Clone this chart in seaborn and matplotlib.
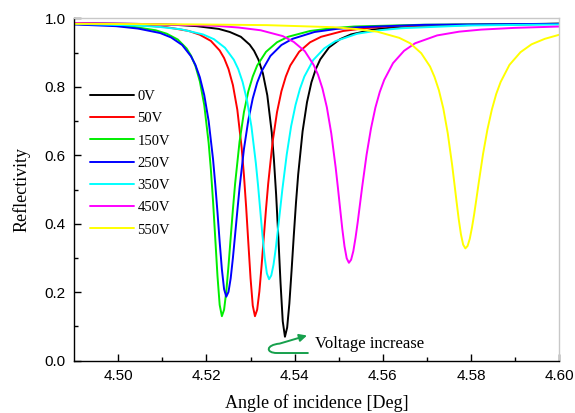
import numpy as np
import pandas as pd
import matplotlib
matplotlib.use("Agg")
import matplotlib.pyplot as plt
import seaborn as sns
from matplotlib.path import Path
from matplotlib.patches import FancyArrowPatch

# ---------------- data ----------------
labels = ["0V", "50V", "150V", "250V", "350V", "450V", "550V"]
colors = ["#000000", "#ff0000", "#00ee00", "#0000ff", "#00ffff", "#ff00ff", "#ffff00"]

x_0V = [4.49, 4.5078, 4.5128, 4.5178, 4.5228, 4.5253, 4.5278, 4.5298, 4.5308, 4.5318,
        4.5328, 4.5338, 4.5348, 4.5353, 4.5358, 4.5363, 4.5368, 4.5373, 4.5378, 4.5383,
        4.5388, 4.5393, 4.5398, 4.5403, 4.5408, 4.5418, 4.5428, 4.5438, 4.5448, 4.5458,
        4.5478, 4.5503, 4.5528, 4.5578, 4.5628, 4.5678, 4.60]
r_0V = [0.986, 0.983, 0.981, 0.977, 0.969, 0.960, 0.946, 0.923, 0.905, 0.879,
        0.839, 0.775, 0.667, 0.587, 0.485, 0.361, 0.227, 0.115, 0.070, 0.097,
        0.167, 0.263, 0.365, 0.461, 0.544, 0.670, 0.755, 0.813, 0.852, 0.880,
        0.915, 0.939, 0.953, 0.967, 0.974, 0.978, 0.984]

x_50V = [4.49, 4.501, 4.506, 4.511, 4.516, 4.5185, 4.521, 4.523, 4.524, 4.525,
         4.526, 4.527, 4.528, 4.5285, 4.529, 4.5295, 4.530, 4.5305, 4.531, 4.5315,
         4.532, 4.5325, 4.533, 4.5335, 4.534, 4.535, 4.536, 4.537, 4.538, 4.539,
         4.541, 4.5435, 4.546, 4.551, 4.556, 4.561, 4.576, 4.60]
r_50V = [0.985, 0.982, 0.979, 0.974, 0.963, 0.952, 0.934, 0.906, 0.884, 0.852,
         0.805, 0.733, 0.620, 0.542, 0.449, 0.344, 0.241, 0.161, 0.130, 0.149,
         0.202, 0.277, 0.360, 0.442, 0.517, 0.639, 0.726, 0.787, 0.830, 0.862,
         0.902, 0.930, 0.946, 0.963, 0.971, 0.976, 0.981, 0.984]

x_150V = [4.49, 4.4935, 4.4985, 4.5035, 4.5085, 4.511, 4.5135, 4.5155, 4.5165, 4.5175,
          4.5185, 4.5195, 4.5205, 4.521, 4.5215, 4.522, 4.5225, 4.523, 4.5235,
          4.524, 4.5245, 4.525, 4.5255, 4.526, 4.5265, 4.5275, 4.5285, 4.5295, 4.5305,
          4.5315, 4.5335, 4.536, 4.5385, 4.5435, 4.5485, 4.5535, 4.5685, 4.60]
r_150V = [0.983, 0.982, 0.980, 0.975, 0.965, 0.955, 0.938, 0.912, 0.891, 0.861,
          0.816, 0.747, 0.636, 0.559, 0.465, 0.357, 0.248, 0.163, 0.130,
          0.149, 0.202, 0.277, 0.360, 0.442, 0.517, 0.639, 0.726, 0.787, 0.830,
          0.862, 0.902, 0.930, 0.946, 0.963, 0.971, 0.976, 0.981, 0.984]

x_250V = [4.49, 4.4995, 4.5045, 4.5095, 4.512, 4.5145, 4.5165, 4.5175, 4.5185, 4.5195,
          4.5205, 4.5215, 4.522, 4.5225, 4.523, 4.5235, 4.524, 4.5245,
          4.525, 4.5255, 4.526, 4.5265, 4.527, 4.5275, 4.5285, 4.5295, 4.5305, 4.5315,
          4.5325, 4.5345, 4.537, 4.5395, 4.5445, 4.5495, 4.5545, 4.5695, 4.60]
r_250V = [0.982, 0.977, 0.970, 0.957, 0.944, 0.922, 0.889, 0.864, 0.828, 0.776,
          0.700, 0.588, 0.515, 0.434, 0.347, 0.267, 0.209, 0.187,
          0.201, 0.241, 0.300, 0.368, 0.437, 0.504, 0.618, 0.703, 0.766, 0.812,
          0.845, 0.890, 0.922, 0.940, 0.960, 0.969, 0.974, 0.981, 0.984]

x_350V = [4.49, 4.5042, 4.5092, 4.5142, 4.5192, 4.5217, 4.5242, 4.5262, 4.5272, 4.5282,
          4.5292, 4.5302, 4.5312, 4.5317, 4.5322, 4.5327, 4.5332, 4.5337, 4.5342,
          4.5347, 4.5352, 4.5357, 4.5362, 4.5367, 4.5372, 4.5382, 4.5392, 4.5402, 4.5412,
          4.5422, 4.5442, 4.5467, 4.5492, 4.5542, 4.5592, 4.5642, 4.5792, 4.60]
r_350V = [0.984, 0.979, 0.975, 0.968, 0.953, 0.939, 0.914, 0.879, 0.852, 0.814,
          0.760, 0.684, 0.577, 0.512, 0.439, 0.366, 0.301, 0.255, 0.238,
          0.249, 0.280, 0.326, 0.382, 0.440, 0.499, 0.602, 0.685, 0.747, 0.794,
          0.830, 0.878, 0.912, 0.933, 0.955, 0.965, 0.971, 0.979, 0.982]

x_450V = [4.49, 4.5073, 4.5223, 4.5273, 4.5323, 4.5373, 4.5398, 4.5423, 4.5443, 4.5453,
          4.5463, 4.5473, 4.5483, 4.5493, 4.5498, 4.5503, 4.5508, 4.5513, 4.5518, 4.5523,
          4.5528, 4.5533, 4.5538, 4.5543, 4.5548, 4.5553, 4.5563, 4.5573, 4.5583, 4.5593,
          4.5603, 4.5623, 4.5648, 4.5673, 4.5723, 4.5773, 4.5823, 4.5898, 4.60]
r_450V = [0.986, 0.983, 0.978, 0.973, 0.965, 0.948, 0.931, 0.904, 0.864, 0.835,
          0.795, 0.740, 0.664, 0.564, 0.506, 0.445, 0.385, 0.334, 0.299, 0.286,
          0.295, 0.320, 0.359, 0.405, 0.456, 0.507, 0.601, 0.678, 0.739, 0.785,
          0.820, 0.869, 0.905, 0.927, 0.950, 0.961, 0.967, 0.972, 0.976]

x_550V = [4.49, 4.5187, 4.5337, 4.5487, 4.5537, 4.5587, 4.5637, 4.5662, 4.5687, 4.5707,
          4.5717, 4.5727, 4.5737, 4.5747, 4.5757, 4.5762, 4.5767, 4.5772, 4.5777, 4.5782,
          4.5787, 4.5792, 4.5797, 4.5802, 4.5807, 4.5812, 4.5817, 4.5827, 4.5837, 4.5847,
          4.5857, 4.5867, 4.5887, 4.5912, 4.5937, 4.5967, 4.60]
r_550V = [0.984, 0.982, 0.980, 0.974, 0.969, 0.961, 0.943, 0.927, 0.898, 0.859,
          0.829, 0.790, 0.737, 0.665, 0.572, 0.519, 0.465, 0.413, 0.369, 0.339,
          0.328, 0.335, 0.356, 0.389, 0.428, 0.472, 0.517, 0.603, 0.675, 0.733,
          0.779, 0.814, 0.864, 0.901, 0.924, 0.940, 0.952]

xticks = [4.50, 4.52, 4.54, 4.56, 4.58, 4.60]
yticks = [0.0, 0.2, 0.4, 0.6, 0.8, 1.0]

series_x = [x_0V, x_50V, x_150V, x_250V, x_350V, x_450V, x_550V]
series_r = [r_0V, r_50V, r_150V, r_250V, r_350V, r_450V, r_550V]

frames = []
for lab, xs, rs in zip(labels, series_x, series_r):
    frames.append(pd.DataFrame({"angle": xs, "refl": rs, "voltage": lab}))
df = pd.concat(frames, ignore_index=True)

# ---------------- figure ----------------
sns.set_style("ticks")
serif = ["Liberation Serif", "DejaVu Serif"]
sans = ["Liberation Sans", "DejaVu Sans"]
plt.rcParams["font.family"] = sans
plt.rcParams["text.color"] = "black"
plt.rcParams["axes.labelcolor"] = "black"

fig = plt.figure(figsize=(5.75, 4.13), dpi=100)
ax = fig.add_axes([0.1289, 0.1266, 0.8438, 0.8291])

sns.lineplot(data=df, x="angle", y="refl", hue="voltage", hue_order=labels,
             palette=dict(zip(labels, colors)), estimator=None, sort=False,
             linewidth=1.4, ax=ax)

ax.set_xlim(4.49, 4.60)
ax.set_ylim(0.0, 1.0)
ax.set_xticks(xticks)
ax.set_xticklabels([f"{v:.2f}" for v in xticks])
ax.set_yticks(yticks)
ax.set_yticklabels([f"{v:.1f}" for v in yticks])
ax.set_xticks([4.51, 4.53, 4.55, 4.57, 4.59], minor=True)
ax.set_yticks([0.1, 0.3, 0.5, 0.7, 0.9], minor=True)
ax.tick_params(axis="both", which="major", direction="in", length=5, width=1,
               labelsize=11, colors="black", labelcolor="black", pad=6)
ax.tick_params(axis="both", which="minor", direction="in", length=3, width=1,
               colors="black")
ax.tick_params(top=False, right=False, which="both")

for side in ["left", "bottom"]:
    ax.spines[side].set_color("black")
    ax.spines[side].set_linewidth(1.0)
for side in ["top", "right"]:
    ax.spines[side].set_visible(True)
    ax.spines[side].set_color("#c8c8c8")
    ax.spines[side].set_linewidth(1.0)

ax.set_xlabel("Angle of incidence [Deg]", fontsize=13, family=serif, labelpad=8,
              color="black")
ax.set_ylabel("Reflectivity", fontsize=13, family=serif, labelpad=10, color="black")

handles, hl = ax.get_legend_handles_labels()
leg = ax.legend(handles, hl, loc="upper left", bbox_to_anchor=(0.021, 0.808),
                borderaxespad=0, frameon=False, handlelength=3.0, handletextpad=0.25,
                labelspacing=0.62, prop={"family": serif, "size": 10.5})
for h in leg.get_lines():
    h.set_linewidth(1.4)
for t in leg.get_texts():
    t.set_color("black")

# annotation: curved arrow + text
arrow_color = "#16a04c"
verts = [(4.5430, 0.0225), (4.5360, 0.0225),
         (4.5334, 0.0225), (4.5334, 0.046), (4.5366, 0.050),
         (4.5428, 0.0736)]
codes = [Path.MOVETO, Path.LINETO, Path.CURVE4, Path.CURVE4, Path.CURVE4, Path.LINETO]
arr = FancyArrowPatch(path=Path(verts, codes), arrowstyle="-|>", mutation_scale=11,
                      color=arrow_color, linewidth=1.4, transform=ax.transData)
ax.add_patch(arr)
ax.text(4.5446, 0.05, "Voltage increase", fontsize=12, family=serif,
        ha="left", va="center", color="black")

fig.savefig("out.png", dpi=100)
